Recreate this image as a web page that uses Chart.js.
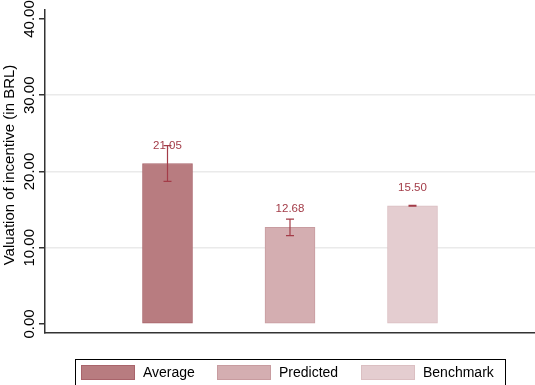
<!DOCTYPE html>
<html>
<head>
<meta charset="utf-8">
<script src="https://cdn.jsdelivr.net/npm/chart.js@4/dist/chart.umd.min.js"></script>
<style>
  html, body { margin: 0; padding: 0; background: #fff; }
  canvas { display: block; }
</style>
</head>
<body>
<canvas id="chart" width="535" height="385"></canvas>
<script>
const categories = ['Average', 'Predicted', 'Benchmark'];
const positions = [1, 2, 3];
const means = [21.05, 12.68, 15.50];
const ciLow = [18.70, 11.60, 15.45];
const ciHigh = [23.40, 13.76, 15.55];
const yTicks = [0, 10, 20, 30, 40];
const yTitle = 'Valuation of incentive (in BRL)';

const fills = ['#b87c80', '#d4aeb1', '#e4cdd0'];
const borders = ['#a9646b', '#c89ca0', '#dbbfc2'];
const FONT = "'Liberation Sans', Arial, sans-serif";
const markColor = '#a33c48';

// error bars and value labels on top of each bar
const barExtras = {
  id: 'barExtras',
  afterDatasetsDraw(chart) {
    const ctx = chart.ctx;
    const y = chart.scales.y;
    chart.data.datasets.forEach((ds, i) => {
      const bar = chart.getDatasetMeta(i).data[0];
      const x = bar.x;
      ctx.save();
      ctx.fillStyle = markColor;
      ctx.font = '11.5px ' + FONT;
      ctx.textAlign = 'center';
      ctx.textBaseline = 'middle';
      ctx.fillText(means[i].toFixed(2), x, y.getPixelForValue(means[i]) - 18);

      const top = y.getPixelForValue(ciHigh[i]);
      const bot = y.getPixelForValue(ciLow[i]);
      ctx.strokeStyle = markColor;
      ctx.lineWidth = 1.2;
      ctx.beginPath();
      ctx.moveTo(x, top); ctx.lineTo(x, bot);
      ctx.moveTo(x - 4, top); ctx.lineTo(x + 4, top);
      ctx.moveTo(x - 4, bot); ctx.lineTo(x + 4, bot);
      ctx.stroke();
      ctx.restore();
    });
  }
};

// rotated y title plus boxed legend under the plot
const boxLegend = {
  id: 'boxLegend',
  afterDraw(chart) {
    const ctx = chart.ctx;
    ctx.save();
    ctx.translate(10, 165);
    ctx.rotate(-Math.PI / 2);
    ctx.font = '15px ' + FONT;
    ctx.fillStyle = '#000';
    ctx.textAlign = 'center';
    ctx.textBaseline = 'middle';
    ctx.fillText(yTitle, 0, 0);
    ctx.restore();

    ctx.save();
    ctx.strokeStyle = '#000';
    ctx.lineWidth = 1;
    ctx.strokeRect(75.5, 359.5, 430, 40);
    const swatchX = [81, 217, 361];
    const textX = [143, 279, 423];
    ctx.font = '14px ' + FONT;
    ctx.textBaseline = 'middle';
    ctx.textAlign = 'left';
    chart.data.datasets.forEach((ds, i) => {
      ctx.fillStyle = ds.backgroundColor;
      ctx.fillRect(swatchX[i], 365, 54, 15);
      ctx.strokeStyle = ds.borderColor;
      ctx.strokeRect(swatchX[i] + 0.5, 365.5, 53, 14);
      ctx.fillStyle = '#000';
      ctx.fillText(ds.label, textX[i], 373);
    });
    ctx.restore();
  }
};

const datasets = categories.map((name, i) => ({
  label: name,
  data: [{ x: positions[i], y: means[i] }],
  backgroundColor: fills[i],
  borderColor: borders[i],
  borderWidth: 1,
  borderSkipped: false,
  barThickness: 50,
  grouped: false
}));

new Chart(document.getElementById('chart'), {
  type: 'bar',
  data: { datasets },
  plugins: [barExtras, boxLegend],
  options: {
    responsive: false,
    animation: false,
    layout: { padding: { top: 10, bottom: 52, left: 0, right: 0 } },
    plugins: {
      legend: { display: false },
      tooltip: { enabled: false }
    },
    scales: {
      x: {
        type: 'linear',
        min: 0,
        max: 4,
        offset: false,
        grid: { display: false },
        ticks: { display: false },
        border: { display: true, color: '#333', width: 1.5 },
        afterFit(scale) { scale.height = 0; }
      },
      y: {
        min: -1.18,
        max: 41.18,
        afterBuildTicks(scale) {
          scale.ticks = yTicks.map(v => ({ value: v }));
        },
        afterFit(scale) { scale.width = 45; },
        border: { display: true, color: '#333', width: 1.5 },
        grid: {
          color: c => (c.tick && c.tick.value > 0 && c.tick.value < 40) ? '#eaeaea' : 'rgba(0,0,0,0)',
          lineWidth: 1.5,
          tickColor: '#333',
          tickLength: 6
        },
        ticks: {
          minRotation: 90,
          maxRotation: 90,
          crossAlign: 'center',
          padding: -10,
          color: '#000',
          font: { family: FONT, size: 15 },
          callback: v => Number(v).toFixed(2)
        }
      }
    }
  }
});
</script>
</body>
</html>
